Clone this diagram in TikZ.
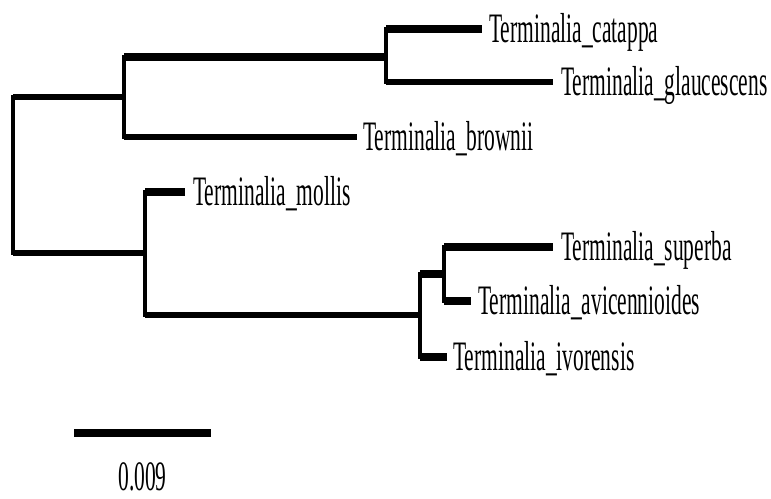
\documentclass[tikz,border=0pt]{standalone}
\usepackage{fontspec}
\setmainfont{Liberation Serif}
% tall, narrow taxon labels
\newcommand{\taxon}[1]{\scalebox{1}[1.95]{\fontsize{21.5}{24}\selectfont #1}}
\tikzset{
  vbar/.style={line width=4.5pt, line cap=rect},
  hthick/.style={line width=8pt},
  hmid/.style={line width=6pt},
  taxlabel/.style={anchor=base west, inner sep=0pt, text=black},
}
\begin{document}
\begin{tikzpicture}[x=1pt, y=-1pt]
\useasboundingbox (0,0) rectangle (771,498);

% internal nodes
\coordinate (root) at (13,175);
\coordinate (nA) at (124,97);
\coordinate (nB) at (386,57);
\coordinate (nC) at (145,253);
\coordinate (nD) at (420,315);
\coordinate (nE) at (444,274);

% tips
\coordinate (tCat) at (482,29);
\coordinate (tGla) at (553,82);
\coordinate (tBro) at (357,137);
\coordinate (tMol) at (185,192);
\coordinate (tSup) at (553,247);
\coordinate (tAvi) at (471,301);
\coordinate (tIvo) at (447,357);

% vertical connectors
\draw[vbar] (root |- nA) -- (root |- nC);
\draw[vbar] (nA |- nB) -- (nA |- tBro);
\draw[vbar] (nB |- tCat) -- (nB |- tGla);
\draw[vbar] (nC |- tMol) -- (nC |- nD);
\draw[vbar] (nD |- nE) -- (nD |- tIvo);
\draw[vbar] (nE |- tSup) -- (nE |- tAvi);

% horizontal branches
\draw[hmid]   (root |- nA) -- (nA);
\draw[hthick] (nA |- nB) -- (nB);
\draw[hthick] (nB |- tCat) -- (tCat);
\draw[hmid]   (nB |- tGla) -- (tGla);
\draw[hmid]   (nA |- tBro) -- (tBro);
\draw[hmid]   (root |- nC) -- (nC);
\draw[hthick] (nC |- tMol) -- (tMol);
\draw[hmid]   (nC |- nD) -- (nD);
\draw[hthick] (nD |- nE) -- (nE);
\draw[hthick] (nE |- tSup) -- (tSup);
\draw[hthick] (nE |- tAvi) -- (tAvi);
\draw[hthick] (nD |- tIvo) -- (tIvo);

% taxon labels
\node[taxlabel] (lCat) at ([shift={(7,13.5)}]tCat) {\taxon{Terminalia\_catappa}};
\node[taxlabel] (lGla) at ([shift={(8,13.5)}]tGla) {\taxon{Terminalia\_glaucescens}};
\node[taxlabel] (lBro) at ([shift={(6,13.5)}]tBro) {\taxon{Terminalia\_brownii}};
\node[taxlabel] (lMol) at ([shift={(8,13.5)}]tMol) {\taxon{Terminalia\_mollis}};
\node[taxlabel] (lSup) at ([shift={(8,13.5)}]tSup) {\taxon{Terminalia\_superba}};
\node[taxlabel] (lAvi) at ([shift={(7,13.5)}]tAvi) {\taxon{Terminalia\_avicennioides}};
\node[taxlabel] (lIvo) at ([shift={(6,13.5)}]tIvo) {\taxon{Terminalia\_ivorensis}};

% scale bar
\coordinate (sbL) at (74,433);
\coordinate (sbR) at (211,433);
\draw[hthick] (sbL) -- (sbR);
\node[anchor=base, inner sep=0pt] (sbText) at (142.5,490) {\taxon{0.009}};
\end{tikzpicture}
\end{document}
